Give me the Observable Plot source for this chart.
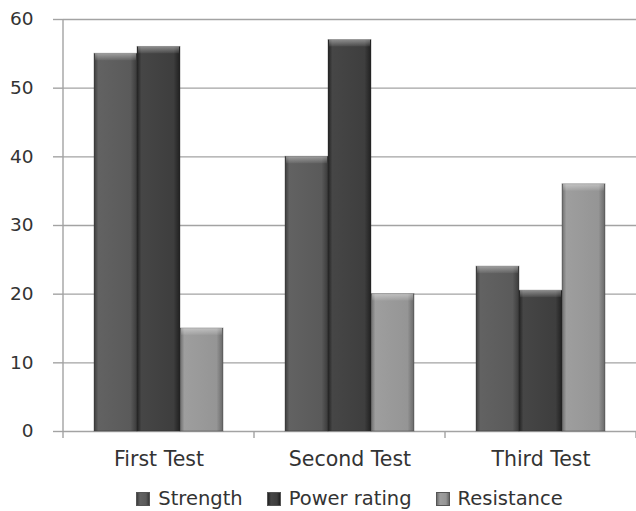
<!DOCTYPE html>
<html>
<head>
<meta charset="utf-8">
<script src="https://cdn.jsdelivr.net/npm/d3@7"></script>
<script src="https://cdn.jsdelivr.net/npm/@observablehq/plot@0.6"></script>
<style>
  body { margin: 0; background: #fff; font-family: "DejaVu Sans", Verdana, sans-serif; }
  #legend { display: flex; justify-content: center; align-items: center; padding-left: 63px; margin-top: 8px; font-size: 19.5px; color: #333; height: 22px; line-height: 22px; }
  #legend .item { display: flex; align-items: center; margin: 0 12px; }
  #legend .sw { width: 14px; height: 14px; margin-right: 8px; box-sizing: border-box; }
</style>
</head>
<body>
<div id="chart"></div>
<div id="legend"></div>
<script>
const tests = ["First Test", "Second Test", "Third Test"];
const series = ["Strength", "Power rating", "Resistance"];
const strength = [55, 40, 24];
const powerRating = [56, 57, 20.5];
const resistance = [15, 20, 36];
const yTicks = [0, 10, 20, 30, 40, 50, 60];

const values = [strength, powerRating, resistance];
const data = [];
tests.forEach((t, i) => series.forEach((s, j) => data.push({test: t, series: s, value: values[j][i]})));

const body = {"Strength": ["#3c3c3c", "#626262", "#5a5a5a", "#3a3a3a"],
              "Power rating": ["#222", "#464646", "#3e3e3e", "#202020"],
              "Resistance": ["#6c6c6c", "#9e9e9e", "#959595", "#686868"]};
const ids = {"Strength": "g0", "Power rating": "g1", "Resistance": "g2"};

const plot = Plot.plot({
  width: 636,
  height: 480,
  marginLeft: 63,
  marginRight: 0,
  marginTop: 19,
  marginBottom: 49,
  style: {fontFamily: "DejaVu Sans, Verdana, sans-serif", color: "#333", background: "#fff"},
  fx: {domain: tests, padding: 0, label: null},
  x: {domain: series, axis: null, paddingInner: 0, paddingOuter: 0.72},
  y: {domain: [0, 60], label: null},
  color: {domain: series, range: series.map(s => `url(#${ids[s]})`)},
  marks: [
    Plot.ruleY(yTicks, {stroke: "#a3a3a3", strokeWidth: 1.4}),
    Plot.axisY(yTicks, {tickSize: 10, tickPadding: 20, fontSize: 18.5, stroke: "#a3a3a3", strokeWidth: 1.4, label: null, tickFormat: d => d}),
    Plot.axisFx({anchor: "bottom", tickSize: 0, tickPadding: 20, fontSize: 20.5, label: null}),
    Plot.barY(data, {fx: "test", x: "series", y: "value", fill: "series", stroke: "#2c2c2c", strokeOpacity: 0.35, strokeWidth: 1}),
    Plot.barY(data, {fx: "test", x: "series", y1: d => d.value - 1, y2: "value", fill: "url(#bevel)", insetLeft: 1, insetRight: 1})
  ]
});

const svg = d3.select(plot);
const defs = svg.insert("defs", ":first-child");
series.forEach(s => {
  const c = body[s];
  const g = defs.append("linearGradient").attr("id", ids[s]).attr("x1", 0).attr("x2", 1).attr("y1", 0).attr("y2", 0);
  g.append("stop").attr("offset", "0%").attr("stop-color", c[0]);
  g.append("stop").attr("offset", "10%").attr("stop-color", c[1]);
  g.append("stop").attr("offset", "85%").attr("stop-color", c[2]);
  g.append("stop").attr("offset", "100%").attr("stop-color", c[3]);
});
const bv = defs.append("linearGradient").attr("id", "bevel").attr("x1", 0).attr("x2", 0).attr("y1", 0).attr("y2", 1);
bv.append("stop").attr("offset", "0%").attr("stop-color", "#fff").attr("stop-opacity", 0.4);
bv.append("stop").attr("offset", "100%").attr("stop-color", "#fff").attr("stop-opacity", 0.05);

// y-axis line and category boundary ticks, positioned from Plot's scales
const fx = plot.scale("fx");
const y = plot.scale("y");
const y0 = y.apply(0);
const left = fx.apply(tests[0]);
const deco = svg.append("g").attr("stroke", "#a3a3a3").attr("stroke-width", 1.4);
deco.append("line").attr("x1", left).attr("x2", left).attr("y1", y.apply(60)).attr("y2", y0 + 7);
tests.forEach(t => {
  const xb = fx.apply(t) + fx.step;
  deco.append("line").attr("x1", xb).attr("x2", xb).attr("y1", y0).attr("y2", y0 + 7);
});

document.getElementById("chart").appendChild(plot);

const legend = d3.select("#legend");
series.forEach(s => {
  const it = legend.append("div").attr("class", "item");
  const c = body[s];
  it.append("div").attr("class", "sw")
    .style("background", `linear-gradient(to right, ${c[0]}, ${c[1]} 25%, ${c[2]} 75%, ${c[3]})`)
    .style("border", "1px solid #555");
  it.append("span").text(s);
});
</script>
</body>
</html>
